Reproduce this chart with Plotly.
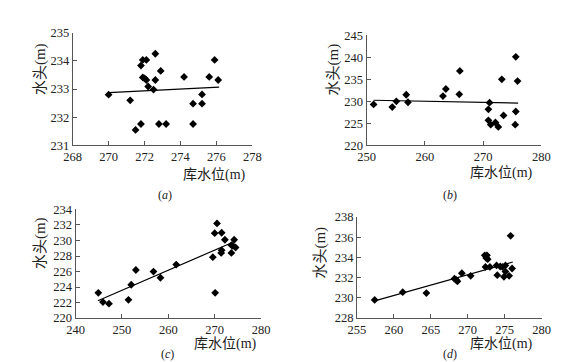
import plotly.graph_objects as go

# ---- data ----
a_x = [270.0, 271.2, 271.5, 271.8, 271.8, 271.9, 272.1, 271.9, 272.0, 272.1, 272.2, 272.6, 272.6, 272.5,
       272.8, 272.9, 273.2, 274.2, 274.7, 274.7, 275.2, 275.2, 275.6, 275.9, 276.1]
a_y = [232.8, 232.6, 231.55, 231.76, 233.83, 234.03, 234.03, 233.41, 233.38, 233.32, 233.09, 234.25, 233.32,
       232.98, 231.76, 233.64, 231.76, 233.43, 231.76, 232.48, 232.81, 232.48, 233.43, 234.03, 233.32]
a_fit_x = [270.0, 276.15]
a_fit_y = [232.87, 233.07]

b_x = [251.2, 254.4, 255.1, 256.8, 257.1, 263.1, 263.6, 266.0, 265.9, 271.1, 270.9, 270.9, 271.3, 272.1,
       272.6, 273.2, 273.5, 275.6, 275.9, 275.6, 275.5]
b_y = [229.3, 228.7, 230.0, 231.5, 229.8, 231.2, 232.8, 236.9, 231.6, 229.7, 228.2, 225.7, 224.7, 225.2,
       224.2, 235.0, 226.8, 240.1, 234.6, 227.7, 224.7]
b_fit_x = [251.2, 276.0]
b_fit_y = [230.25, 229.6]

c_x = [244.9, 245.9, 247.2, 251.4, 252.0, 253.0, 256.8, 258.3, 261.7, 269.6, 270.0, 270.5, 270.1, 271.5,
       271.5, 271.4, 272.2, 273.6, 273.6, 274.2, 274.5, 273.9]
c_y = [223.26, 222.07, 221.86, 222.36, 224.3, 226.2, 226.0, 225.2, 226.9, 227.85, 230.95, 232.2, 223.26,
       231.0, 228.76, 228.4, 230.1, 228.4, 229.4, 230.1, 229.1, 229.3]
c_fit_x = [244.8, 273.8]
c_fit_y = [222.23, 229.75]

d_x = [257.4, 261.2, 264.4, 268.2, 268.4, 268.6, 269.2, 270.4, 272.3, 272.6, 272.7, 272.4, 273.0, 273.9,
       274.0, 274.4, 274.7, 275.1, 274.9, 275.1, 275.6, 275.8, 276.0, 272.5]
d_y = [229.8, 230.56, 230.47, 231.9, 231.8, 231.64, 232.43, 232.18, 234.2, 234.2, 233.82, 233.06, 233.06,
       233.2, 232.24, 233.1, 233.06, 233.2, 232.08, 232.6, 232.18, 236.13, 232.9, 233.95]
d_fit_x = [257.4, 276.1]
d_fit_y = [229.7, 233.54]

x_title = "库水位(m)"
y_title = "水头(m)"
panel_labels = ["(<i>a</i>)", "(<i>b</i>)", "(<i>c</i>)", "(<i>d</i>)"]

W, H = 571, 362
NUM_FONT = "Liberation Serif"
CJK_FONT = "Liberation Serif, Noto Sans CJK SC"

panels = [
    dict(x=a_x, y=a_y, fx=a_fit_x, fy=a_fit_y, xr=[268, 278], xd=2, yr=[231, 235], yd=1,
         px=(57.5, 243.0), py=(18.3, 135.7), yt=(25, 56), xt=(204, 166), pl=(153, 187)),
    dict(x=b_x, y=b_y, fx=b_fit_x, fy=b_fit_y, xr=[250, 280], xd=10, yr=[220, 245], yd=5,
         px=(361.0, 541.5), py=(21.0, 135.7), yt=(327, 57), xt=(500, 164), pl=(447, 187)),
    dict(x=c_x, y=c_y, fx=c_fit_x, fy=c_fit_y, xr=[240, 280], xd=10, yr=[220, 234], yd=2,
         px=(60.5, 252.0), py=(202.3, 315.3), yt=(25, 237), xt=(215, 342), pl=(155, 353)),
    dict(x=d_x, y=d_y, fx=d_fit_x, fy=d_fit_y, xr=[255, 280], xd=5, yr=[228, 238], yd=2,
         px=(351.0, 541.7), py=(210.0, 315.3), yt=(313, 247), xt=(500, 342), pl=(447, 353)),
]

fig = go.Figure()
annotations = []
for i, p in enumerate(panels):
    n = "" if i == 0 else str(i + 1)
    xa, ya = "x" + n, "y" + n
    fig.add_trace(go.Scatter(x=p["x"], y=p["y"], mode="markers", xaxis=xa, yaxis=ya,
                             marker=dict(symbol="diamond", size=6, color="black"),
                             showlegend=False, cliponaxis=False))
    fig.add_trace(go.Scatter(x=p["fx"], y=p["fy"], mode="lines", xaxis=xa, yaxis=ya,
                             line=dict(color="black", width=1.2), showlegend=False))
    axis_common = dict(showgrid=False, zeroline=False, showline=True, linecolor="#555",
                       linewidth=1, ticks="inside", ticklen=4, tickcolor="#555",
                       tickfont=dict(family=NUM_FONT, size=12.5, color="#222"))
    fig.layout["xaxis" + n] = dict(domain=[p["px"][0] / W, p["px"][1] / W], range=p["xr"],
                                    dtick=p["xd"], tick0=p["xr"][0], anchor=ya, **axis_common)
    fig.layout["yaxis" + n] = dict(domain=[1 - p["py"][1] / H, 1 - p["py"][0] / H], range=p["yr"],
                                    dtick=p["yd"], tick0=p["yr"][0], anchor=xa, **axis_common)
    annotations.append(dict(text=y_title, x=p["yt"][0] / W, y=1 - p["yt"][1] / H, xref="paper",
                            yref="paper", showarrow=False, textangle=-90,
                            font=dict(family=CJK_FONT, size=15, color="#222"),
                            xanchor="center", yanchor="middle"))
    annotations.append(dict(text=x_title, x=p["xt"][0] / W, y=1 - p["xt"][1] / H, xref="paper",
                            yref="paper", showarrow=False,
                            font=dict(family=CJK_FONT, size=14, color="#222"),
                            xanchor="center", yanchor="middle"))
    annotations.append(dict(text=panel_labels[i], x=p["pl"][0] / W, y=1 - p["pl"][1] / H,
                            xref="paper", yref="paper", showarrow=False,
                            font=dict(family=NUM_FONT, size=12, color="#222"),
                            xanchor="center", yanchor="middle"))

fig.update_layout(width=W, height=H, margin=dict(l=0, r=0, t=0, b=0),
                  paper_bgcolor="white", plot_bgcolor="white", annotations=annotations)

fig.write_html("out.html")
